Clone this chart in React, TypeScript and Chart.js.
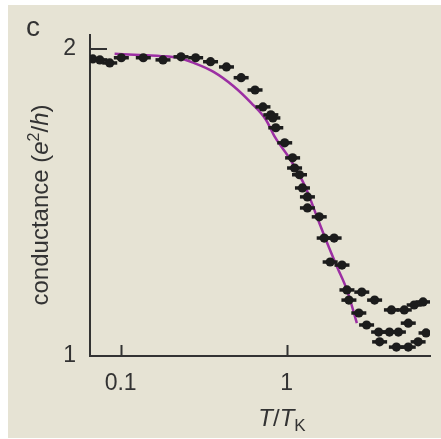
import { useEffect, useRef } from "react";
import { Chart, registerables } from "chart.js";
Chart.register(...registerables);

const curveT = [0.092, 0.130, 0.171, 0.224, 0.276, 0.363, 0.477, 0.611, 0.750, 0.849, 1.056, 1.297, 1.530, 1.754, 2.013, 2.307, 2.647];
const curveG = [1.984, 1.980, 1.977, 1.971, 1.954, 1.925, 1.879, 1.824, 1.769, 1.713, 1.638, 1.550, 1.450, 1.368, 1.290, 1.215, 1.107];

const dataT = [0.068, 0.075, 0.086, 0.101, 0.137, 0.180, 0.231, 0.283, 0.348, 0.434, 0.532, 0.645, 0.720, 0.803, 0.826, 0.860, 0.973, 1.086, 1.116, 1.195, 1.245, 1.334, 1.334, 1.571, 1.683, 1.931, 1.828, 2.154, 2.307, 2.371, 2.834, 3.386, 4.276, 5.11, 5.86, 6.63, 2.72, 3.03, 3.58, 4.16, 4.71, 5.40, 3.63, 4.58, 5.40, 6.19, 6.91];
const dataG = [1.967, 1.964, 1.954, 1.971, 1.971, 1.964, 1.974, 1.971, 1.958, 1.941, 1.906, 1.866, 1.811, 1.785, 1.775, 1.743, 1.694, 1.645, 1.612, 1.590, 1.547, 1.518, 1.482, 1.453, 1.384, 1.384, 1.306, 1.296, 1.215, 1.182, 1.208, 1.182, 1.150, 1.150, 1.166, 1.176, 1.140, 1.101, 1.078, 1.078, 1.078, 1.107, 1.046, 1.029, 1.029, 1.046, 1.075];

const xTicks = [0.1, 1];
const yTicks = [1, 2];
const panelLabel = "c";

const INK = "#333333";
const FONT = "'Liberation Sans', Arial, sans-serif";

export default function App() {
  const ref = useRef<HTMLCanvasElement | null>(null);
  useEffect(() => {
    document.body.style.margin = "0";
    const canvas = ref.current!;
    const curve = curveT.map((t, i) => ({ x: t, y: curveG[i] }));
    const pts = dataT.map((t, i) => ({ x: t, y: dataG[i] }));

    const deco = {
      id: "deco",
      afterDraw(chart: any) {
        const ctx = chart.ctx as CanvasRenderingContext2D;
        const xs = chart.scales.x;
        const ys = chart.scales.y;
        const a = chart.chartArea;
        ctx.save();
        ctx.strokeStyle = INK;
        ctx.lineWidth = 2;
        xTicks.forEach((v) => {
          const px = Math.round(xs.getPixelForValue(v)) + 0.5;
          ctx.beginPath();
          ctx.moveTo(px, a.bottom);
          ctx.lineTo(px, a.bottom - 11);
          ctx.stroke();
        });
        const py = Math.round(ys.getPixelForValue(2));
        ctx.beginPath();
        ctx.moveTo(a.left, py);
        ctx.lineTo(a.left + 17, py);
        ctx.stroke();

        ctx.fillStyle = INK;
        // panel label
        ctx.font = `28px ${FONT}`;
        ctx.textAlign = "center";
        ctx.textBaseline = "middle";
        ctx.fillText(panelLabel, 25, 23);

        // y title
        const size = 24;
        const segs: [string, string, number][] = [
          ["conductance (", `${size}px ${FONT}`, 0],
          ["e", `italic ${size}px ${FONT}`, 0],
          ["2", `${Math.round(size * 0.68)}px ${FONT}`, -9],
          ["/", `${size}px ${FONT}`, 0],
          ["h", `italic ${size}px ${FONT}`, 0],
          [")", `${size}px ${FONT}`, 0],
        ];
        let total = 0;
        segs.forEach(([t, f]) => { ctx.font = f; total += ctx.measureText(t).width; });
        ctx.save();
        ctx.translate(32, 200);
        ctx.rotate(-Math.PI / 2);
        ctx.textAlign = "left";
        ctx.textBaseline = "alphabetic";
        let x0 = -total / 2;
        segs.forEach(([t, f, dy]) => {
          ctx.font = f;
          ctx.fillText(t, x0, 8 + dy);
          x0 += ctx.measureText(t).width;
        });
        ctx.restore();

        // x title
        const xsegs: [string, string, number][] = [
          ["T", `italic ${size}px ${FONT}`, 0],
          ["/", `${size}px ${FONT}`, 0],
          ["T", `italic ${size}px ${FONT}`, 0],
          ["K", `${Math.round(size * 0.72)}px ${FONT}`, 5],
        ];
        total = 0;
        xsegs.forEach(([t, f]) => { ctx.font = f; total += ctx.measureText(t).width; });
        let x1 = 274 - total / 2;
        ctx.textAlign = "left";
        ctx.textBaseline = "alphabetic";
        xsegs.forEach(([t, f, dy]) => {
          ctx.font = f;
          ctx.fillText(t, x1, 421 + dy);
          x1 += ctx.measureText(t).width;
        });
        ctx.restore();
      },
    };

    const chart = new Chart(canvas, {
      type: "scatter",
      data: {
        datasets: [
          {
            type: "line",
            data: curve,
            borderColor: "#9c2fa3",
            borderWidth: 2.5,
            pointRadius: 0,
            fill: false,
            tension: 0.4,
            cubicInterpolationMode: "monotone",
            order: 3,
          } as any,
          {
            data: pts,
            pointStyle: "line",
            pointRadius: 7.5,
            borderColor: "#1c1c1c",
            borderWidth: 3.5,
            order: 2,
          } as any,
          {
            data: pts,
            pointStyle: "circle",
            pointRadius: 4.6,
            backgroundColor: "#1c1c1c",
            borderColor: "#1c1c1c",
            borderWidth: 0,
            order: 1,
          } as any,
        ],
      },
      plugins: [deco],
      options: {
        animation: false,
        responsive: false,
        events: [],
        layout: { padding: { top: 30, right: 7, left: 0, bottom: 0 } },
        plugins: { legend: { display: false }, tooltip: { enabled: false } },
        scales: {
          x: {
            type: "logarithmic",
            min: 0.0654,
            max: 7.3,
            afterBuildTicks: (s: any) => { s.ticks = xTicks.map((v) => ({ value: v })); },
            afterFit: (s: any) => { s.height = 82; },
            ticks: {
              autoSkip: false,
              maxRotation: 0,
              minRotation: 0,
              padding: 14,
              color: INK,
              font: { family: FONT, size: 23 },
              callback: (v: any) => String(v),
            },
            grid: { display: true, drawOnChartArea: false, drawTicks: false },
            border: { display: true, color: INK, width: 2 },
          },
          y: {
            type: "linear",
            min: 1,
            max: 2.045,
            afterBuildTicks: (s: any) => { s.ticks = yTicks.map((v) => ({ value: v })); },
            afterFit: (s: any) => { s.width = 82; },
            ticks: {
              padding: 14,
              minRotation: 0,
              maxRotation: 0,
              color: INK,
              font: { family: FONT, size: 23 },
              callback: (v: any) => String(v),
            },
            grid: { display: true, drawOnChartArea: false, drawTicks: false },
            border: { display: true, color: INK, width: 2 },
          },
        },
      } as any,
    });
    return () => chart.destroy();
  }, []);
  return (
    <div style={{ position: "absolute", left: 8, top: 5, width: 433, height: 433, background: "#e6e3d4" }}>
      <canvas ref={ref} width={433} height={433} style={{ display: "block" }} />
    </div>
  );
}
